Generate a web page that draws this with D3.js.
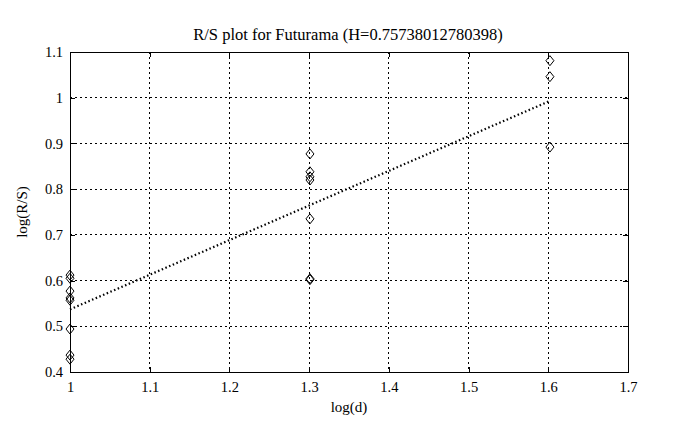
<!DOCTYPE html>
<html><head><meta charset="utf-8">
<script src="https://cdn.jsdelivr.net/npm/d3@7"></script>
<style>body{margin:0;background:#fff}svg{display:block}text{font-family:"Liberation Serif","DejaVu Serif",serif;font-size:14px;fill:#000}</style>
</head><body><svg id="c" width="686" height="430"></svg>
<script>
const title = "R/S plot for Futurama (H=0.75738012780398)";
const xLabel = "log(d)";
const yLabel = "log(R/S)";
const xTicks = [1, 1.1, 1.2, 1.3, 1.4, 1.5, 1.6, 1.7];
const yTicks = [0.4, 0.5, 0.6, 0.7, 0.8, 0.9, 1, 1.1];
const pointX = [1,1,1,1,1,1,1,1, 1.30103,1.30103,1.30103,1.30103,1.30103,1.30103,1.30103, 1.60206,1.60206,1.60206];
const pointY = [0.612,0.605,0.577,0.562,0.557,0.494,0.437,0.428, 0.877,0.838,0.827,0.820,0.735,0.604,0.602, 1.081,1.046,0.892];
const H = 0.75738012780398;
const intercept = 0.537;
const fitX = [1, 1.60206];

const svg = d3.select("#c");
const L = 70, R = 628, T = 52, B = 372;
const x = d3.scaleLinear().domain([1, 1.7]).range([L, R]);
const y = d3.scaleLinear().domain([0.4, 1.1]).range([B, T]);

// grid
const g = svg.append("g");
g.selectAll(".gx").data(xTicks.slice(1, -1)).join("line")
  .attr("x1", d => x(d)).attr("x2", d => x(d)).attr("y1", T).attr("y2", B)
  .attr("stroke", "#000").attr("stroke-width", 1).attr("stroke-dasharray", "2,3").attr("shape-rendering","crispEdges");
g.selectAll(".gy").data(yTicks.slice(1, -1)).join("line")
  .attr("y1", d => y(d)).attr("y2", d => y(d)).attr("x1", L).attr("x2", R)
  .attr("stroke", "#000").attr("stroke-width", 1).attr("stroke-dasharray", "2,3").attr("shape-rendering","crispEdges");

// axes
svg.append("g").attr("transform", `translate(0,${B})`)
  .call(d3.axisBottom(x).tickValues(xTicks).tickFormat(d3.format("")).tickSizeInner(-5).tickSizeOuter(0).tickPadding(10));
svg.append("g").attr("transform", `translate(0,${T})`)
  .call(d3.axisTop(x).tickValues(xTicks).tickFormat("").tickSizeInner(-5).tickSizeOuter(0));
svg.append("g").attr("transform", `translate(${L},0)`)
  .call(d3.axisLeft(y).tickValues(yTicks).tickFormat(d3.format("")).tickSizeInner(-5).tickSizeOuter(0).tickPadding(7));
svg.append("g").attr("transform", `translate(${R},0)`)
  .call(d3.axisRight(y).tickValues(yTicks).tickFormat("").tickSizeInner(-5).tickSizeOuter(0));
svg.selectAll(".domain").attr("stroke","#000").attr("shape-rendering","crispEdges");
svg.selectAll(".tick line").attr("stroke","#000").attr("shape-rendering","crispEdges");
svg.selectAll(".tick text").style("font-family","Liberation Serif, serif").style("font-size","14.5px").attr("fill","#000");

// fit line
svg.append("line")
  .attr("x1", x(fitX[0])).attr("y1", y(intercept + H*(fitX[0]-1)))
  .attr("x2", x(fitX[1])).attr("y2", y(intercept + H*(fitX[1]-1)))
  .attr("stroke", "#000").attr("stroke-width", 2.2).attr("stroke-dasharray", "1.5,2.5");

// points (diamonds)
const dpath = "M0,-5L4,0L0,5L-4,0Z";
svg.selectAll(".pt").data(pointX.map((d,i)=>[d,pointY[i]])).join("path")
  .attr("d", dpath).attr("transform", d => `translate(${x(d[0])},${y(d[1])})`)
  .attr("fill","none").attr("stroke","#000").attr("stroke-width",1);

svg.append("text").attr("x", 348).attr("y", 39.5).attr("text-anchor","middle").style("font-size","16.5px").text(title);
svg.append("text").attr("x", (L+R)/2).attr("y", 412).attr("text-anchor","middle").style("font-size","15px").text(xLabel);
svg.append("text").attr("transform", `translate(27,${(T+B)/2}) rotate(-90)`).attr("text-anchor","middle").style("font-size","15px").text(yLabel);
</script></body></html>
